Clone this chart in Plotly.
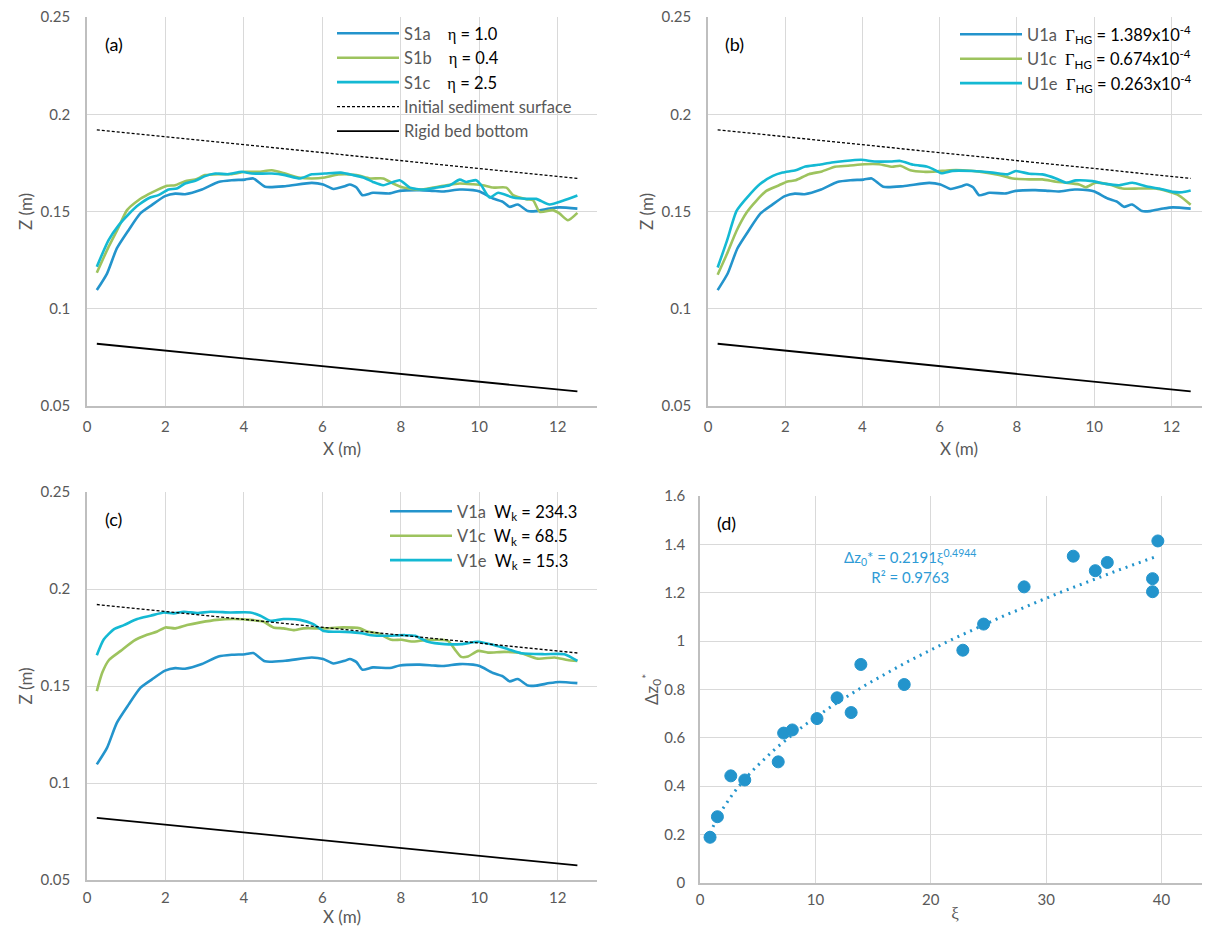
import plotly.graph_objects as go

# ---------------- data ----------------
# Reference lines (same in panels a, b, c)
ref_x = [0.25, 12.5]
initial_surface_z = [0.192, 0.167]
rigid_bed_z = [0.082, 0.0575]

# S1a / U1a / V1a (same run, blue)
base_x = [0.25, 0.51, 0.76, 1.06, 1.36, 1.65, 1.99, 2.25, 2.50, 2.93, 3.35, 3.69, 4.03, 4.24, 4.54,
          5.05, 5.73, 6.02, 6.28, 6.57, 6.70, 6.87, 7.02, 7.29, 7.72, 7.97, 8.48, 8.82, 9.08, 9.50,
          9.84, 10.01, 10.35, 10.60, 10.77, 10.98, 11.24, 11.45, 11.79, 12.04, 12.5]
base_z = [0.1096, 0.1181, 0.131, 0.1404, 0.149, 0.1533, 0.1579, 0.1592, 0.1589, 0.1613, 0.1652,
          0.1661, 0.1664, 0.1670, 0.1627, 0.163, 0.1647, 0.1639, 0.1616, 0.163, 0.1639, 0.1623,
          0.1584, 0.1596, 0.1593, 0.1606, 0.161, 0.1606, 0.1603, 0.1613, 0.161, 0.1603, 0.1567,
          0.155, 0.1524, 0.1536, 0.1502, 0.1502, 0.1515, 0.1521, 0.1515]

# Panel (a)
s1b_x = [0.25, 0.55, 0.81, 1.02, 1.31, 1.57, 1.78, 2.04, 2.25, 2.50, 2.76, 3.01, 3.35, 3.69, 4.03,
         4.37, 4.71, 5.05, 5.39, 5.73, 6.06, 6.40, 6.87, 7.21, 7.55, 7.80, 8.06, 8.48, 8.82, 9.16,
         9.50, 9.84, 10.09, 10.35, 10.69, 10.86, 11.20, 11.37, 11.54, 11.87, 12.04, 12.26, 12.5]
s1b_z = [0.1185, 0.1318, 0.1421, 0.1507, 0.1558, 0.1589, 0.161, 0.1632, 0.1635, 0.1656, 0.1664,
         0.1687, 0.1692, 0.1692, 0.1704, 0.1704, 0.1712, 0.1695, 0.1675, 0.167, 0.1675, 0.169,
         0.1687, 0.167, 0.167, 0.1644, 0.1623, 0.1613, 0.1623, 0.1635, 0.1644, 0.164, 0.1635,
         0.1623, 0.1623, 0.1584, 0.1563, 0.1558, 0.1498, 0.1507, 0.149, 0.1455, 0.1493]
s1c_x = [0.25, 0.55, 0.81, 1.06, 1.31, 1.61, 1.82, 2.08, 2.29, 2.50, 2.76, 3.01, 3.27, 3.60, 3.94,
         4.20, 4.71, 5.05, 5.43, 5.73, 6.06, 6.47, 6.79, 7.04, 7.29, 7.55, 7.97, 8.23, 8.57, 8.91,
         9.25, 9.50, 9.67, 9.92, 10.05, 10.26, 10.48, 10.86, 11.20, 11.45, 11.79, 12.13, 12.5]
s1c_z = [0.1216, 0.1353, 0.143, 0.1486, 0.1533, 0.1572, 0.1584, 0.1613, 0.1618, 0.1644, 0.1658,
         0.1682, 0.1695, 0.1692, 0.1704, 0.1695, 0.1695, 0.1687, 0.167, 0.1691, 0.1695, 0.17,
         0.1687, 0.1675, 0.1652, 0.1635, 0.1661, 0.1623, 0.1613, 0.1623, 0.1635, 0.1664, 0.1652,
         0.1661, 0.1635, 0.1572, 0.1596, 0.1572, 0.1565, 0.1565, 0.1536, 0.1555, 0.1582]

# Panel (b)
u1c_x = [0.25, 0.49, 0.74, 1.0, 1.25, 1.51, 1.84, 2.06, 2.27, 2.61, 2.95, 3.29, 3.63, 4.05, 4.43,
         4.77, 4.98, 5.24, 5.58, 5.92, 6.26, 6.59, 7.03, 7.54, 7.89, 8.32, 8.66, 9.01, 9.27, 9.61,
         9.78, 10.04, 10.39, 10.73, 11.16, 11.59, 11.94, 12.2, 12.5]
u1c_z = [0.1175, 0.1281, 0.1401, 0.1495, 0.1555, 0.1606, 0.1635, 0.1654, 0.1661, 0.1692, 0.1706,
         0.173, 0.1735, 0.1743, 0.1743, 0.173, 0.1735, 0.1712, 0.1704, 0.1706, 0.1712, 0.1712,
         0.1705, 0.1688, 0.167, 0.1665, 0.1665, 0.1653, 0.1648, 0.1639, 0.1625, 0.1648, 0.1639,
         0.1618, 0.1618, 0.1618, 0.1601, 0.1582, 0.1535]
u1e_x = [0.25, 0.49, 0.74, 1.0, 1.34, 1.68, 1.93, 2.27, 2.52, 2.86, 3.2, 3.54, 3.97, 4.31, 4.73,
         4.98, 5.33, 5.66, 5.83, 6.04, 6.34, 6.85, 7.37, 7.76, 7.97, 8.32, 8.66, 9.01, 9.27, 9.53,
         9.96, 10.3, 10.65, 10.99, 11.34, 11.68, 12.03, 12.28, 12.5]
u1e_z = [0.1212, 0.1349, 0.1503, 0.1569, 0.164, 0.1683, 0.17, 0.1712, 0.1731, 0.174, 0.1752,
         0.176, 0.1766, 0.1757, 0.1757, 0.176, 0.174, 0.1731, 0.1718, 0.1697, 0.1709, 0.1708,
         0.17, 0.1691, 0.1708, 0.1694, 0.1691, 0.167, 0.1648, 0.166, 0.1656, 0.1642, 0.1635,
         0.1648, 0.163, 0.1618, 0.1601, 0.1599, 0.1608]

# Panel (c)
v1c_x = [0.25, 0.39, 0.56, 0.86, 1.19, 1.53, 1.79, 2.0, 2.25, 2.55, 2.89, 3.31, 3.74, 4.16, 4.5,
         4.75, 5.01, 5.26, 5.52, 6.03, 6.53, 6.96, 7.17, 7.42, 7.76, 8.02, 8.27, 8.69, 9.2, 9.37,
         9.54, 9.71, 9.97, 10.22, 10.64, 11.07, 11.49, 11.92, 12.25, 12.5]
v1c_z = [0.1474, 0.1569, 0.1634, 0.1681, 0.1733, 0.1764, 0.1781, 0.1802, 0.1797, 0.1814, 0.1828,
         0.1841, 0.1845, 0.1841, 0.1831, 0.1802, 0.1797, 0.1788, 0.1797, 0.1797, 0.1802, 0.1797,
         0.1779, 0.1772, 0.1738, 0.1738, 0.1729, 0.1738, 0.1733, 0.169, 0.165, 0.1652, 0.1681,
         0.1672, 0.1676, 0.1669, 0.1641, 0.1647, 0.1634, 0.1629]
v1e_x = [0.25, 0.43, 0.69, 0.94, 1.28, 1.62, 1.96, 2.21, 2.47, 2.81, 3.14, 3.65, 4.16, 4.42, 4.67,
         5.01, 5.43, 5.77, 6.03, 6.58, 7.0, 7.25, 7.59, 8.1, 8.36, 8.69, 9.12, 9.54, 9.97, 10.39,
         10.73, 11.07, 11.66, 12.17, 12.5]
v1e_z = [0.1659, 0.1741, 0.1793, 0.1814, 0.1845, 0.1862, 0.1879, 0.1874, 0.1883, 0.1876, 0.1883,
         0.1879, 0.1879, 0.1862, 0.1836, 0.1845, 0.1841, 0.1819, 0.1784, 0.1779, 0.1772, 0.1762,
         0.1759, 0.1762, 0.1759, 0.1728, 0.1716, 0.1716, 0.1728, 0.171, 0.169, 0.1669, 0.1664,
         0.1664, 0.1629]

# Panel (d)
xi = [0.87, 1.51, 2.67, 3.88, 6.78, 7.25, 8.0, 10.14, 11.88, 13.1, 13.94, 17.7, 22.78, 24.58,
      28.09, 32.35, 34.26, 35.3, 39.22, 39.22, 39.68]
dz0 = [0.188, 0.273, 0.442, 0.425, 0.500, 0.619, 0.632, 0.679, 0.765, 0.704, 0.903, 0.820, 0.962,
       1.070, 1.224, 1.351, 1.291, 1.325, 1.258, 1.204, 1.414]
fit_a = 0.2191
fit_b = 0.4944
fit_r2 = 0.9763

# ---------------- styling ----------------
BLUE = "#2394CC"
GREEN = "#9DC35E"
CYAN = "#14B9D3"
GRAY = "#595959"
GRID = "#D9D9D9"
FONT = "Lato"
LW = 2.6

fig = go.Figure()

def curve(x, z, color, name, xa, ya, legend=None, showlegend=True, dash=None, width=LW, shape="spline"):
    fig.add_trace(go.Scatter(
        x=x, y=z, mode="lines", name=name,
        line=dict(color=color, width=width, dash=dash, shape=shape, smoothing=0.6),
        xaxis=xa, yaxis=ya, legend=legend, showlegend=showlegend, hoverinfo="x+y"))

sp = "\u00a0"
def lbl(code, desc, n=4):
    return f'{code}{sp*n}<span style="color:black">{desc}</span>'

eta = '<span style="font-family:Liberation Serif">η</span>'
gam = '<span style="font-family:Liberation Serif">Γ</span>'

# Panel (a)
curve(base_x, base_z, BLUE, lbl("S1a", f"{eta} = 1.0"), "x", "y", "legend")
curve(s1b_x, s1b_z, GREEN, lbl("S1b", f"{eta} = 0.4"), "x", "y", "legend")
curve(s1c_x, s1c_z, CYAN, lbl("S1c", f"{eta} = 2.5"), "x", "y", "legend")
curve(ref_x, initial_surface_z, "black", "Initial sediment surface", "x", "y", "legend",
      dash="3px,2px", width=1.3, shape="linear")
curve(ref_x, rigid_bed_z, "black", "Rigid bed bottom", "x", "y", "legend", width=1.8, shape="linear")

# Panel (b)
curve(base_x, base_z, BLUE, lbl("U1a", f"{gam}<sub>HG</sub> = 1.389x10<sup>-4</sup>", 2), "x2", "y2", "legend2")
curve(u1c_x, u1c_z, GREEN, lbl("U1c", f"{gam}<sub>HG</sub> = 0.674x10<sup>-4</sup>", 2), "x2", "y2", "legend2")
curve(u1e_x, u1e_z, CYAN, lbl("U1e", f"{gam}<sub>HG</sub> = 0.263x10<sup>-4</sup>", 2), "x2", "y2", "legend2")
curve(ref_x, initial_surface_z, "black", "Initial sediment surface", "x2", "y2", showlegend=False,
      dash="3px,2px", width=1.3, shape="linear")
curve(ref_x, rigid_bed_z, "black", "Rigid bed bottom", "x2", "y2", showlegend=False, width=1.8, shape="linear")

# Panel (c)
curve(base_x, base_z, BLUE, lbl("V1a", "W<sub>k</sub> = 234.3", 2), "x3", "y3", "legend3")
curve(v1c_x, v1c_z, GREEN, lbl("V1c", "W<sub>k</sub> = 68.5", 2), "x3", "y3", "legend3")
curve(v1e_x, v1e_z, CYAN, lbl("V1e", "W<sub>k</sub> = 15.3", 2), "x3", "y3", "legend3")
curve(ref_x, initial_surface_z, "black", "Initial sediment surface", "x3", "y3", showlegend=False,
      dash="3px,2px", width=1.3, shape="linear")
curve(ref_x, rigid_bed_z, "black", "Rigid bed bottom", "x3", "y3", showlegend=False, width=1.8, shape="linear")

# Panel (d): power-law trendline from the stated fit, over the data range
n_fit = 80
x_lo, x_hi = min(xi), max(xi)
fit_x = [x_lo + (x_hi - x_lo) * i / (n_fit - 1) for i in range(n_fit)]
fit_y = [fit_a * v ** fit_b for v in fit_x]
fig.add_trace(go.Scatter(x=fit_x, y=fit_y, mode="lines", line=dict(color=BLUE, width=3, dash="2px,5px"),
                         xaxis="x4", yaxis="y4", showlegend=False, hoverinfo="skip"))
fig.add_trace(go.Scatter(x=xi, y=dz0, mode="markers",
                         marker=dict(color=BLUE, size=12, line=dict(color=BLUE, width=1)),
                         xaxis="x4", yaxis="y4", showlegend=False))

# ---------------- layout ----------------
# page has an 8px body margin; figure sized to fit the 1210x942 window
OFF = 8
W, H = 1202, 934
def px_x(p): return (p - OFF) / W
def px_y(p): return 1 - (p - OFF) / H

tickfont = dict(family=FONT, size=15, color=GRAY)
titlefont = dict(family=FONT, size=17, color=GRAY)

def xax(domain, rng, dtick, title, anchor, standoff=9, tls=6):
    return dict(domain=domain, range=rng, dtick=dtick, tick0=0, anchor=anchor, showgrid=True,
                gridcolor=GRID, gridwidth=1, zeroline=False, showline=True, linecolor="#BFBFBF",
                linewidth=1.5, ticks="", tickfont=tickfont, ticklabelstandoff=tls, automargin=False,
                ticklabeloverflow="allow",
                title=dict(text=title, font=titlefont, standoff=standoff))

def yax(domain, rng, dtick, title, anchor, standoff=4, tls=12):
    return dict(domain=domain, range=rng, dtick=dtick, tick0=0, anchor=anchor, showgrid=True,
                gridcolor=GRID, gridwidth=1, zeroline=False, showline=True, linecolor="#BFBFBF",
                linewidth=1.5, ticks="", tickfont=tickfont, ticklabelstandoff=tls, automargin=False,
                ticklabeloverflow="allow",
                title=dict(text=title, font=titlefont, standoff=standoff))

dom_x_left = [px_x(87), px_x(597)]
dom_x_b = [px_x(708), 1.0]
dom_y_top = [px_y(406), px_y(17)]
dom_y_bot = [px_y(880), px_y(492)]

legend_common = dict(bgcolor="rgba(0,0,0,0)", font=dict(family=FONT, size=16.5, color=GRAY),
                     xanchor="left", yanchor="top", itemwidth=62, tracegroupgap=0,
                     itemclick=False, itemdoubleclick=False)

fig.update_layout(
    width=W, height=H,
    margin=dict(l=0, r=0, t=0, b=0, autoexpand=False),
    paper_bgcolor="white", plot_bgcolor="white",
    font=dict(family=FONT, color=GRAY),
    xaxis=xax(dom_x_left, [0, 13], 2, "X (m)", "y"),
    yaxis=yax(dom_y_top, [0.05, 0.25], 0.05, "Z (m)", "x"),
    xaxis2=xax(dom_x_b, [0, 13], 2, "X (m)", "y2"),
    yaxis2=yax(dom_y_top, [0.05, 0.25], 0.05, "Z (m)", "x2"),
    xaxis3=xax(dom_x_left, [0, 13], 2, "X (m)", "y3", standoff=0, tls=3),
    yaxis3=yax(dom_y_bot, [0.05, 0.25], 0.05, "Z (m)", "x3"),
    xaxis4=xax([px_x(700), 1.0], [0, 44.2], 10,
               '<span style="font-family:Liberation Serif">ξ</span>', "y4", standoff=0, tls=3),
    yaxis4=yax([px_y(882.7), px_y(496)], [0, 1.6], 0.2,
               'Δz<sub>0</sub><sup>*</sup>', "x4", standoff=0, tls=10),
    legend=dict(x=px_x(332), y=px_y(16), **legend_common),
    legend2=dict(x=px_x(955), y=px_y(17), **legend_common),
    legend3=dict(x=px_x(385), y=px_y(494), **legend_common),
)

panel_font = dict(family=FONT, size=18, color="black")
for xr, yr, txt in [("x domain", "y domain", "(a)"), ("x2 domain", "y2 domain", "(b)"),
                    ("x3 domain", "y3 domain", "(c)"), ("x4 domain", "y4 domain", "(d)")]:
    fig.add_annotation(xref=xr, yref=yr, x=0.052, y=0.93, text=txt, showarrow=False,
                       font=panel_font, xanchor="center", yanchor="middle")

fig.add_annotation(xref="x4", yref="y4", x=18.2, y=1.31,
                   text=f"Δz<sub>0</sub>* = {fit_a}"
                        f'<span style="font-family:Liberation Serif">ξ</span><sup>{fit_b}</sup>'
                        f"<br>R² = {fit_r2}",
                   showarrow=False, align="center", font=dict(family=FONT, size=15, color="#2E9BD6"))

fig.write_html("out.html")
